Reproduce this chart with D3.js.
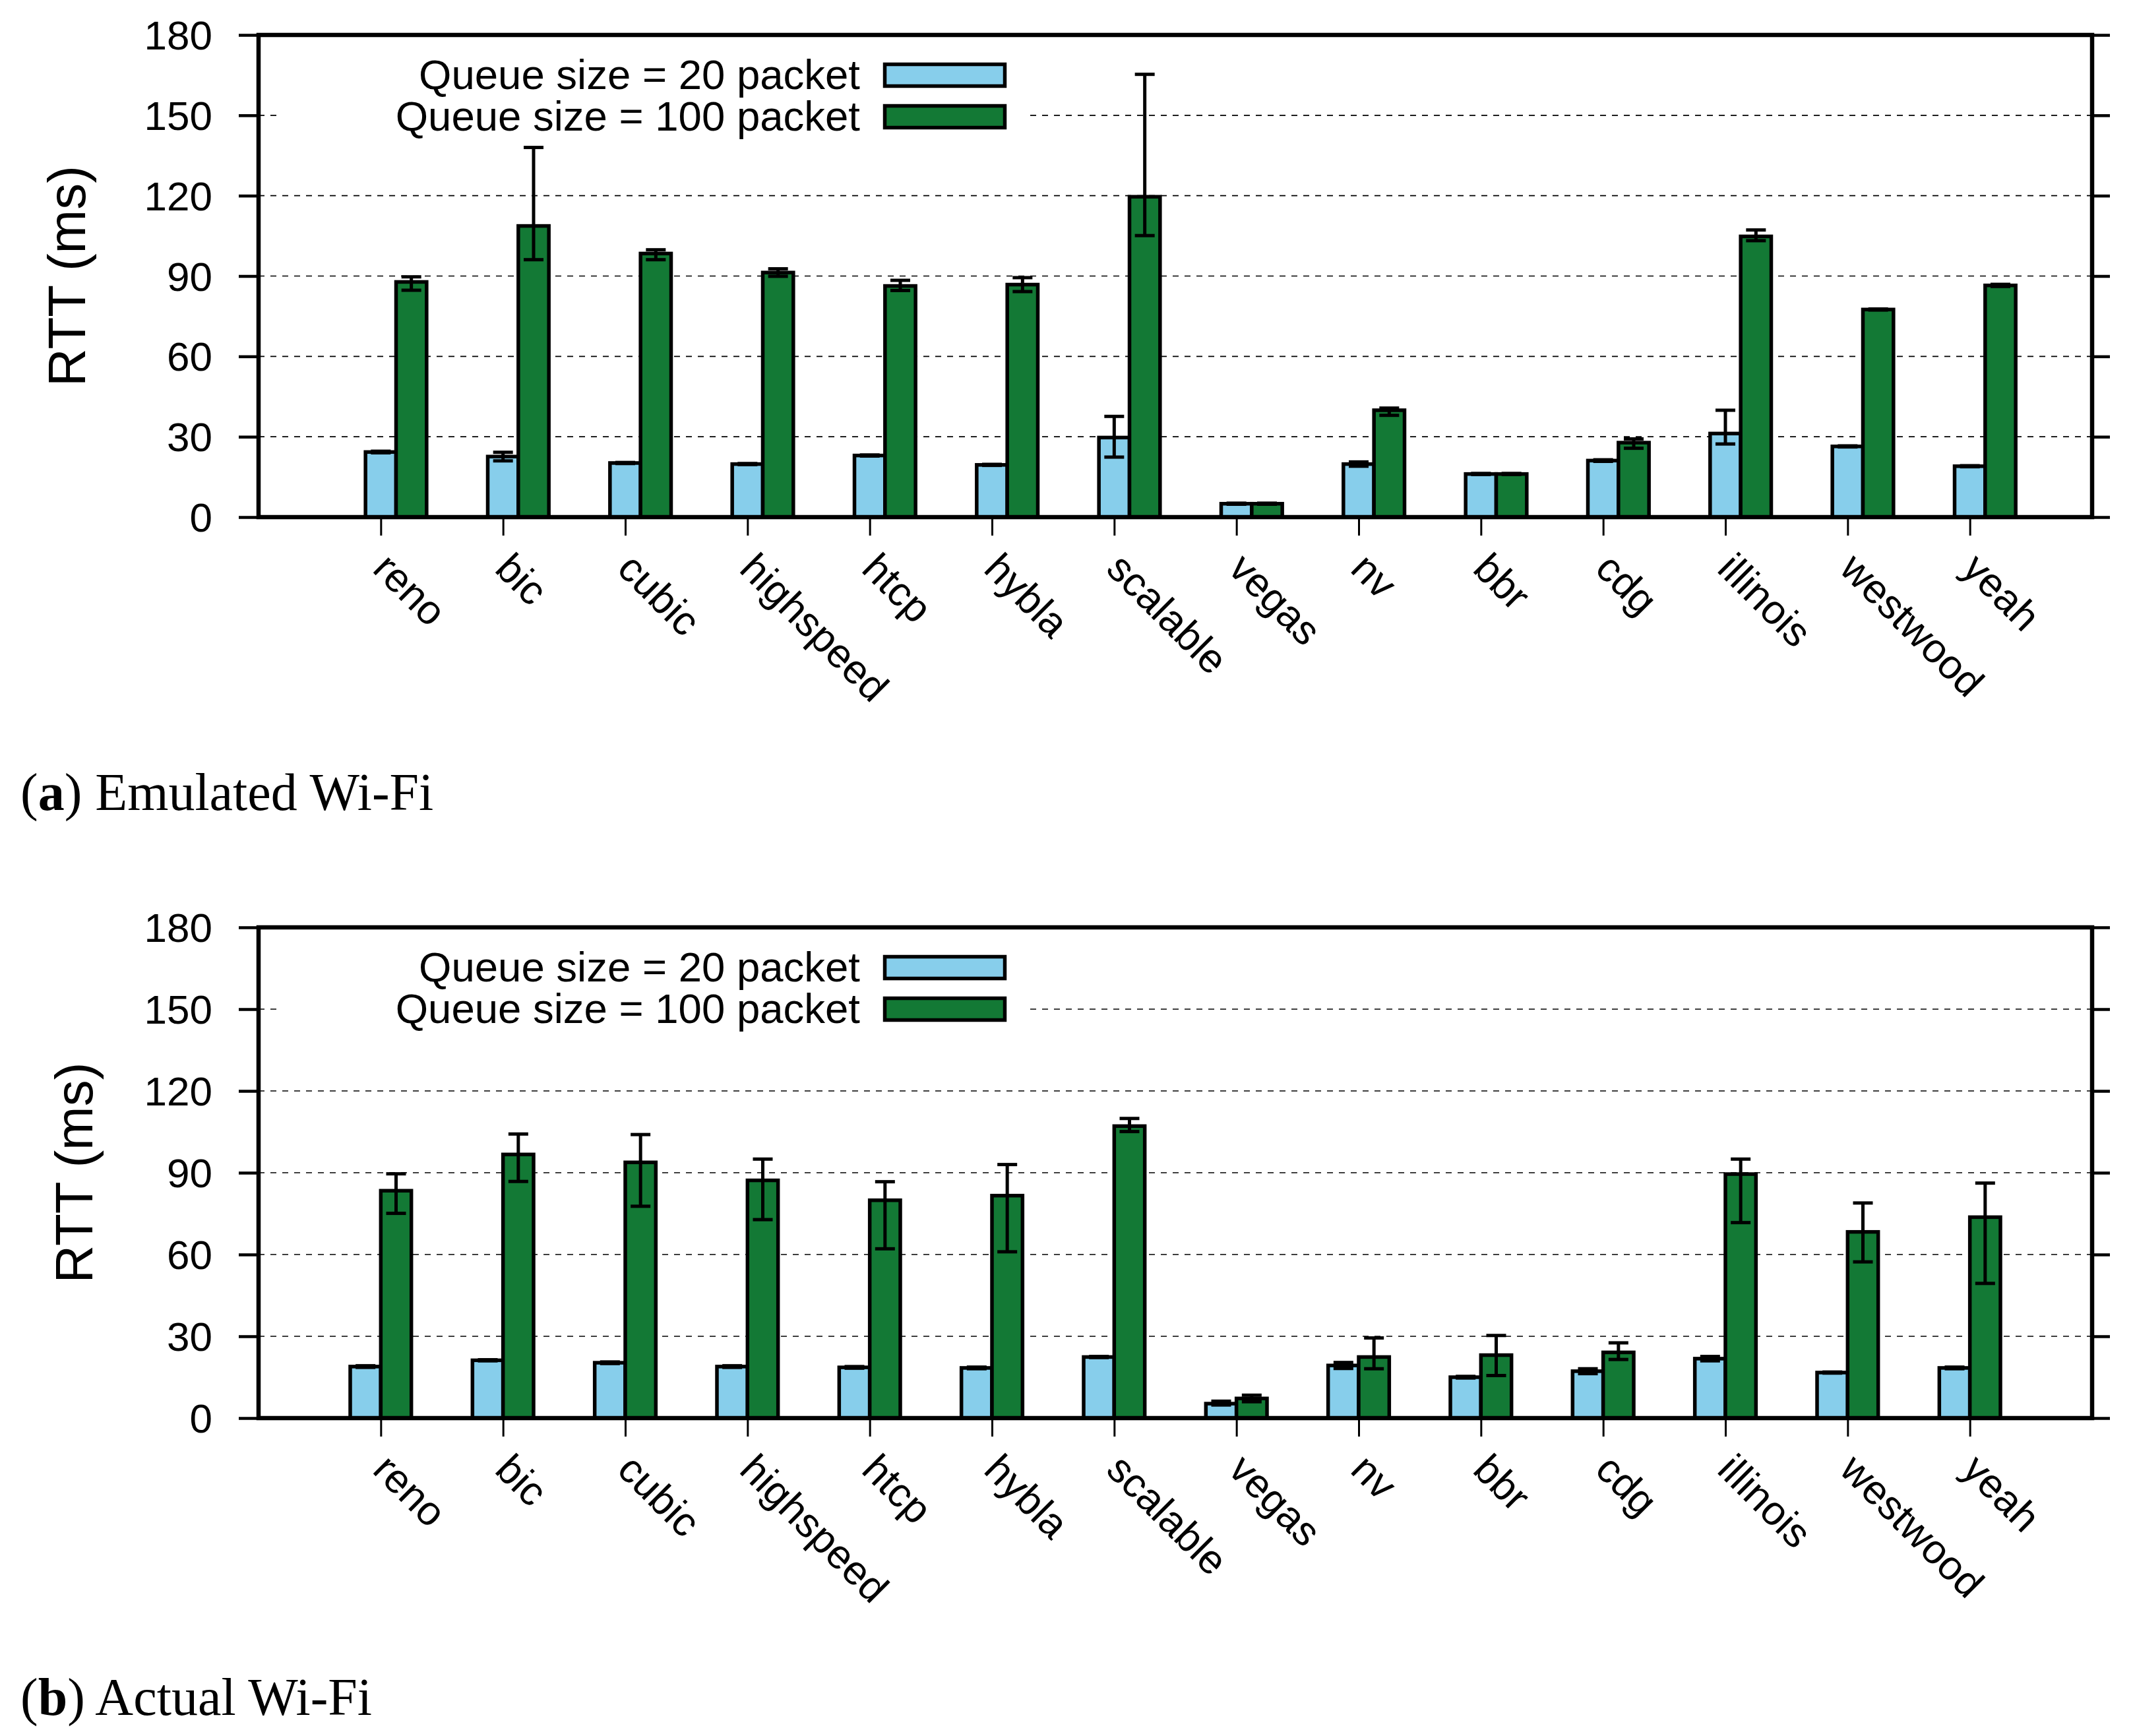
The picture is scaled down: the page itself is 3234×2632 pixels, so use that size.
<!DOCTYPE html>
<html lang="en">
<head>
<meta charset="utf-8">
<title>RTT per congestion control</title>
<script src="https://d3js.org/d3.v7.min.js"></script>
<style>
  body { margin: 0; background: #fff; }
  svg { display: block; }
</style>
</head>
<body>
<div id="canvas"></div>
<script>
const width = 3234
const height = 2632

// categories and values (ms)
const cats = ["reno","bic","cubic","highspeed","htcp","hybla","scalable","vegas","nv","bbr","cdg","illinois","westwood","yeah"]

const emu20   = [24.3, 22.6, 20.2, 19.8, 23.0, 19.5, 29.7, 5.0, 19.8, 16.1, 21.1, 31.2, 26.4, 19.0]
const emu20Lo = [24.0, 21.0, 20.0, 19.6, 22.8, 19.3, 22.4, 4.8, 19.0, 15.9, 20.8, 27.3, 26.2, 18.8]
const emu20Hi = [24.6, 24.2, 20.4, 20.0, 23.2, 19.7, 37.6, 5.2, 20.6, 16.3, 21.4, 39.9, 26.6, 19.2]
const emu100   = [87.8, 108.7, 98.4, 91.3, 86.3, 86.8, 119.6, 5.0, 39.9, 16.1, 27.8, 104.8, 77.5, 86.5]
const emu100Lo = [84.7, 96.1, 96.1, 89.9, 84.6, 84.2, 105.1, 4.8, 38.0, 15.9, 25.7, 103.2, 77.3, 86.1]
const emu100Hi = [89.7, 138.0, 99.8, 92.7, 88.4, 89.4, 165.3, 5.2, 40.7, 16.3, 29.2, 107.2, 77.7, 86.9]

const act20   = [18.9, 21.2, 20.3, 18.9, 18.6, 18.4, 22.4, 5.3, 19.3, 15.0, 17.2, 21.8, 16.7, 18.4]
const act20Lo = [18.6, 21.0, 20.0, 18.6, 18.3, 18.1, 22.2, 4.8, 18.2, 14.7, 16.3, 21.0, 16.5, 18.1]
const act20Hi = [19.2, 21.4, 20.6, 19.2, 18.9, 18.7, 22.6, 6.2, 20.4, 15.3, 18.1, 22.6, 16.9, 18.7]
const act100   = [83.4, 96.7, 93.8, 87.2, 79.9, 81.6, 107.1, 7.2, 22.4, 23.1, 24.1, 89.5, 68.3, 73.7]
const act100Lo = [75.1, 86.8, 77.7, 72.8, 62.1, 61.0, 105.1, 6.0, 18.1, 15.6, 21.5, 71.7, 57.3, 49.4]
const act100Hi = [89.6, 104.2, 104.0, 95.0, 86.7, 93.0, 109.9, 8.4, 29.4, 30.3, 27.6, 95.0, 78.9, 86.2]

const yTicks = [0, 30, 60, 90, 120, 150, 180]
const gridTicks = [30, 60, 90, 120, 150]
const legendLabels = ["Queue size = 20 packet", "Queue size = 100 packet"]
const colors = ["#87ceeb", "#137935"]

const sans = "'Liberation Sans', Arial, Helvetica, sans-serif"
const serif = "'Liberation Serif', 'Times New Roman', serif"

const svg = d3.select("#canvas")
  .append("svg")
    .attr("width", width)
    .attr("height", height)

svg.append("rect").attr("width", width).attr("height", height).attr("fill", "#fff")

const left = 392, right = 3172

const panels = [
  { top: 53,   bottom: 784,  shift: 0.5, titleX: 129, capY: 1228, tag: "a", cap: " Emulated Wi-Fi",
    series: [[emu20, emu20Lo, emu20Hi], [emu100, emu100Lo, emu100Hi]] },
  { top: 1406, bottom: 2150, shift: 0,   titleX: 140, capY: 2600, tag: "b", cap: " Actual Wi-Fi",
    series: [[act20, act20Lo, act20Hi], [act100, act100Lo, act100Hi]] }
]

const x = d3.scalePoint().domain(cats).range([left, right]).padding(1)
const barW = x.step() * 0.25

panels.forEach(function(p) {
  const y = d3.scaleLinear().domain([0, 180]).range([p.bottom, p.top])
  const g = svg.append("g")

  // grid
  g.append("g").selectAll("line")
    .data(gridTicks)
    .join("line")
      .attr("x1", left).attr("x2", right)
      .attr("y1", d => y(d)).attr("y2", d => y(d))
      .attr("stroke", "#000")
      .attr("stroke-width", 1.6)
      .attr("stroke-dasharray", "9,9")

  // legend (opaque box hides the grid)
  const lg = g.append("g").attr("transform", `translate(0,${p.top})`)
  lg.append("rect")
    .attr("x", 424).attr("y", 6).attr("width", 1136).attr("height", 160)
    .attr("fill", "#fff")
  legendLabels.forEach(function(lab, i) {
    lg.append("text")
      .attr("x", 1304).attr("y", 82 + i * 63)
      .attr("text-anchor", "end")
      .style("font-family", sans).style("font-size", "63.5px")
      .text(lab)
    lg.append("rect")
      .attr("x", 1341.5).attr("y", 44.5 + i * 63).attr("width", 182).attr("height", 33)
      .attr("fill", colors[i]).attr("stroke", "#000").attr("stroke-width", 5.5)
  })

  // bars
  p.series.forEach(function(s, si) {
    const vals = s[0], lo = s[1], hi = s[2]
    const bx = (i) => x(cats[i]) - barW + p.shift * barW + si * barW

    g.append("g").selectAll("rect")
      .data(vals)
      .join("rect")
        .attr("x", (d, i) => bx(i))
        .attr("y", d => y(d))
        .attr("width", barW)
        .attr("height", d => y(0) - y(d))
        .attr("fill", colors[si])
        .attr("stroke", "#000")
        .attr("stroke-width", 5.5)

    const eg = g.append("g").attr("stroke", "#000").attr("stroke-width", 5)
    vals.forEach(function(v, i) {
      const cx = bx(i) + barW / 2
      eg.append("line").attr("x1", cx).attr("x2", cx).attr("y1", y(lo[i])).attr("y2", y(hi[i]))
      eg.append("line").attr("x1", cx - 15).attr("x2", cx + 15).attr("y1", y(lo[i])).attr("y2", y(lo[i]))
      eg.append("line").attr("x1", cx - 15).attr("x2", cx + 15).attr("y1", y(hi[i])).attr("y2", y(hi[i]))
    })
  })

  // y axes
  const ya = g.append("g")
    .attr("transform", `translate(${left},0)`)
    .call(d3.axisLeft(y).tickValues(yTicks).tickSize(30).tickPadding(40))
  ya.select(".domain").remove()
  ya.selectAll("line").attr("stroke-width", 4.5)
  ya.selectAll("text")
    .attr("dy", null)
    .attr("dominant-baseline", "central")
    .style("font-family", sans).style("font-size", "62px").attr("fill", "#000")

  const yr = g.append("g")
    .attr("transform", `translate(${right},0)`)
    .call(d3.axisRight(y).tickValues(yTicks).tickSize(27).tickFormat(""))
  yr.select(".domain").remove()
  yr.selectAll("line").attr("stroke-width", 4.5)

  // x axis
  const xa = g.append("g")
    .attr("transform", `translate(0,${p.bottom})`)
    .call(d3.axisBottom(x).tickSize(28))
  xa.select(".domain").remove()
  xa.selectAll("line").attr("stroke-width", 3)
  xa.selectAll("text")
    .attr("y", null).attr("dy", null)
    .attr("transform", "translate(0,66) rotate(45)")
    .attr("text-anchor", "start")
    .attr("dominant-baseline", "central")
    .style("font-family", sans).style("font-size", "62px").attr("fill", "#000")

  // frame
  g.append("rect")
    .attr("x", left).attr("y", p.top)
    .attr("width", right - left).attr("height", p.bottom - p.top)
    .attr("fill", "none").attr("stroke", "#000").attr("stroke-width", 6.5)

  // y title
  g.append("text")
    .attr("transform", `translate(${p.titleX},${(p.top + p.bottom) / 2}) rotate(-90)`)
    .attr("text-anchor", "middle")
    .style("font-family", sans).style("font-size", "80px")
    .text("RTT (ms)")

  // caption
  const cap = svg.append("text")
    .attr("x", 31).attr("y", p.capY)
    .style("font-family", serif).style("font-size", "80px")
  cap.append("tspan").text("(")
  cap.append("tspan").style("font-weight", "bold").text(p.tag)
  cap.append("tspan").text(")" + p.cap)
})
</script>
</body>
</html>
